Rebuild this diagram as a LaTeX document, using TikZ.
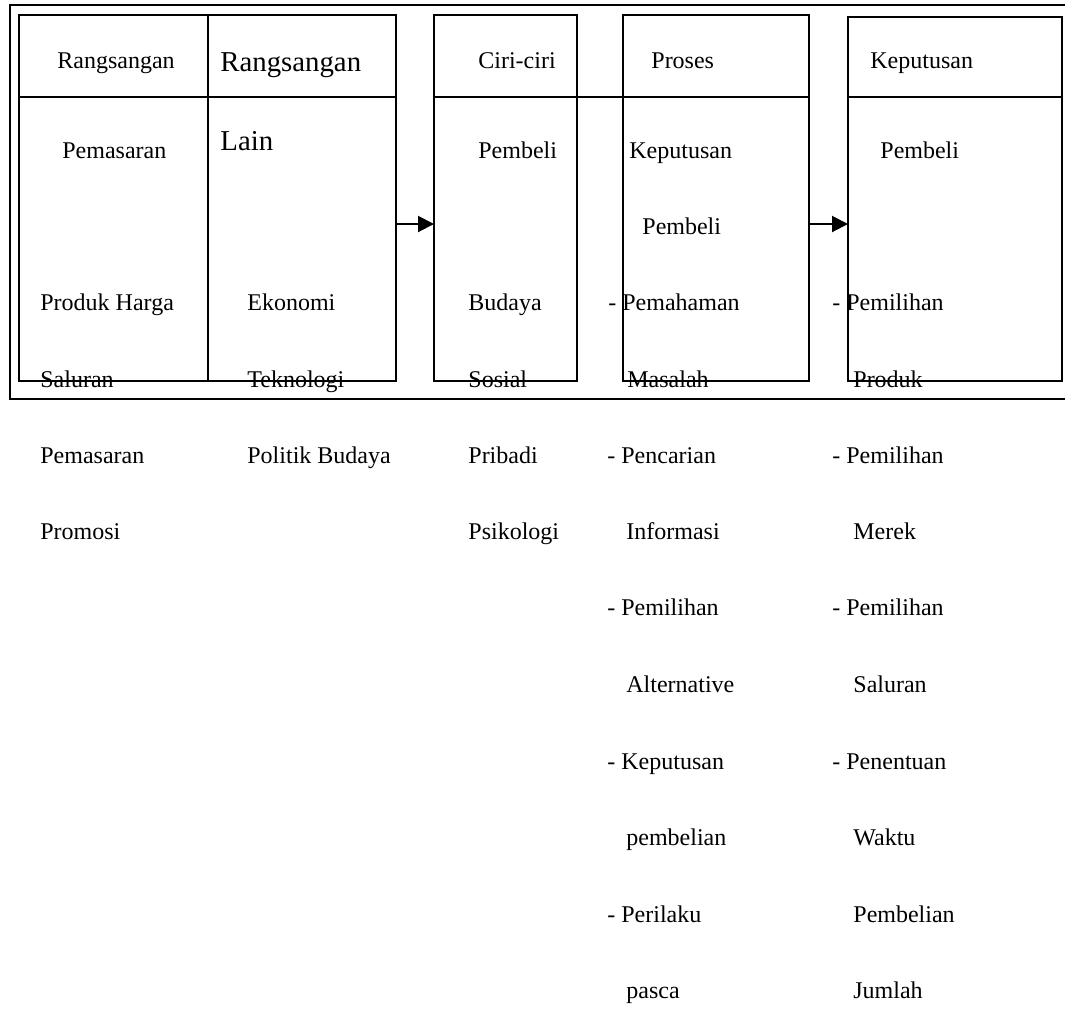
\documentclass[tikz,border=0pt]{standalone}
\usepackage{fontspec}
\setmainfont{Liberation Serif}
\usepackage{tikz}
\usetikzlibrary{arrows.meta}

\begin{document}
\begin{tikzpicture}[x=0.5pt,y=-0.5pt,
  txt/.style={anchor=base west,inner sep=0pt,font=\fontsize{12}{14}\selectfont},
  big/.style={txt,font=\fontsize{14.4}{17}\selectfont},
  box/.style={draw,line width=1pt,inner sep=0pt,outer sep=0pt,anchor=north west},
  arr/.style={line width=1pt,-{Triangle[length=8pt,width=8pt]}}]
  \useasboundingbox (0,0) rectangle (1065,1008);
  % outer frame, open on the right
  \draw [line width=1pt] (1065,5) -- (10,5) -- (10,399) -- (1065,399);
  % boxes
  \node [box,minimum width=188.5pt,minimum height=183pt] (rangbox) at (19,15) {};
  \node [box,minimum width=71.5pt,minimum height=183pt] (ciribox) at (434,15) {};
  \node [box,minimum width=93pt,minimum height=183pt] (prosesbox) at (623,15) {};
  \node [box,minimum width=107pt,minimum height=182pt] (kepbox) at (848,17) {};
  \coordinate (hd) at (0,97);
  \coordinate (ar) at (0,224);
  \draw [line width=1pt] (rangbox.north) -- (rangbox.south);
  \draw [line width=1pt] (rangbox.west |- hd) -- (rangbox.east |- hd);
  \draw [line width=1pt] (ciribox.west |- hd) -- (prosesbox.east |- hd);
  \draw [line width=1pt] (kepbox.west |- hd) -- (kepbox.east |- hd);
  \draw [arr] (rangbox.east |- ar) -- (ciribox.west |- ar);
  \draw [arr] (prosesbox.east |- ar) -- (kepbox.west |- ar);
  % headers
  \node [txt] (rangA) at (57,68) {Rangsangan};
  \node [big] (rangB) at (220,71) {Rangsangan};
  \node [txt] (ciri) at (478,68) {Ciri-ciri};
  \node [txt] (proses) at (651,68) {Proses};
  \node [txt] (keputusanH) at (870,68) {Keputusan};
  \node [txt] (pemasaranA) at (62,158) {Pemasaran};
  \node [big] (lain) at (220,150) {Lain};
  \node [txt] (pembeliC) at (478,158) {Pembeli};
  \node [txt] (keputusanD) at (629,158) {Keputusan};
  \node [txt] (pembeliE) at (880,158) {Pembeli};
  \node [txt] (pembeliD) at (642,234) {Pembeli};
  % first column
  \node [txt] (produk) at (40,310) {Produk Harga};
  \node [txt] (saluranA) at (40,387) {Saluran};
  \node [txt] (pemasaranB) at (40,463) {Pemasaran};
  \node [txt] (promosi) at (40,539) {Promosi};
  % second column
  \node [txt] (ekonomi) at (247,310) {Ekonomi};
  \node [txt] (teknologi) at (247,387) {Teknologi};
  \node [txt] (politik) at (247,463) {Politik Budaya};
  % third column
  \node [txt] (budaya) at (468,310) {Budaya};
  \node [txt] (sosial) at (468,387) {Sosial};
  \node [txt] (pribadi) at (468,463) {Pribadi};
  \node [txt] (psikologi) at (468,539) {Psikologi};
  % fourth column
  \node [txt] (pemahaman) at (608,310) {- Pemahaman};
  \node [txt] (masalah) at (627,387) {Masalah};
  \node [txt] (pencarian) at (607,463) {- Pencarian};
  \node [txt] (informasi) at (626,539) {Informasi};
  \node [txt] (pemilihanD) at (607,615) {- Pemilihan};
  \node [txt] (alternative) at (626,692) {Alternative};
  \node [txt] (keputusanP) at (607,769) {- Keputusan};
  \node [txt] (pembelianD) at (626,845) {pembelian};
  \node [txt] (perilaku) at (607,922) {- Perilaku};
  \node [txt] (pasca) at (626,998) {pasca};
  % fifth column
  \node [txt] (pilihProduk) at (832,310) {- Pemilihan};
  \node [txt] (produkE) at (853,387) {Produk};
  \node [txt] (pilihMerek) at (832,463) {- Pemilihan};
  \node [txt] (merek) at (853,539) {Merek};
  \node [txt] (pilihSaluran) at (832,615) {- Pemilihan};
  \node [txt] (saluranE) at (853,692) {Saluran};
  \node [txt] (penentuan) at (832,769) {- Penentuan};
  \node [txt] (waktu) at (853,845) {Waktu};
  \node [txt] (pembelianE) at (853,922) {Pembelian};
  \node [txt] (jumlah) at (853,998) {Jumlah};
\end{tikzpicture}
\end{document}
